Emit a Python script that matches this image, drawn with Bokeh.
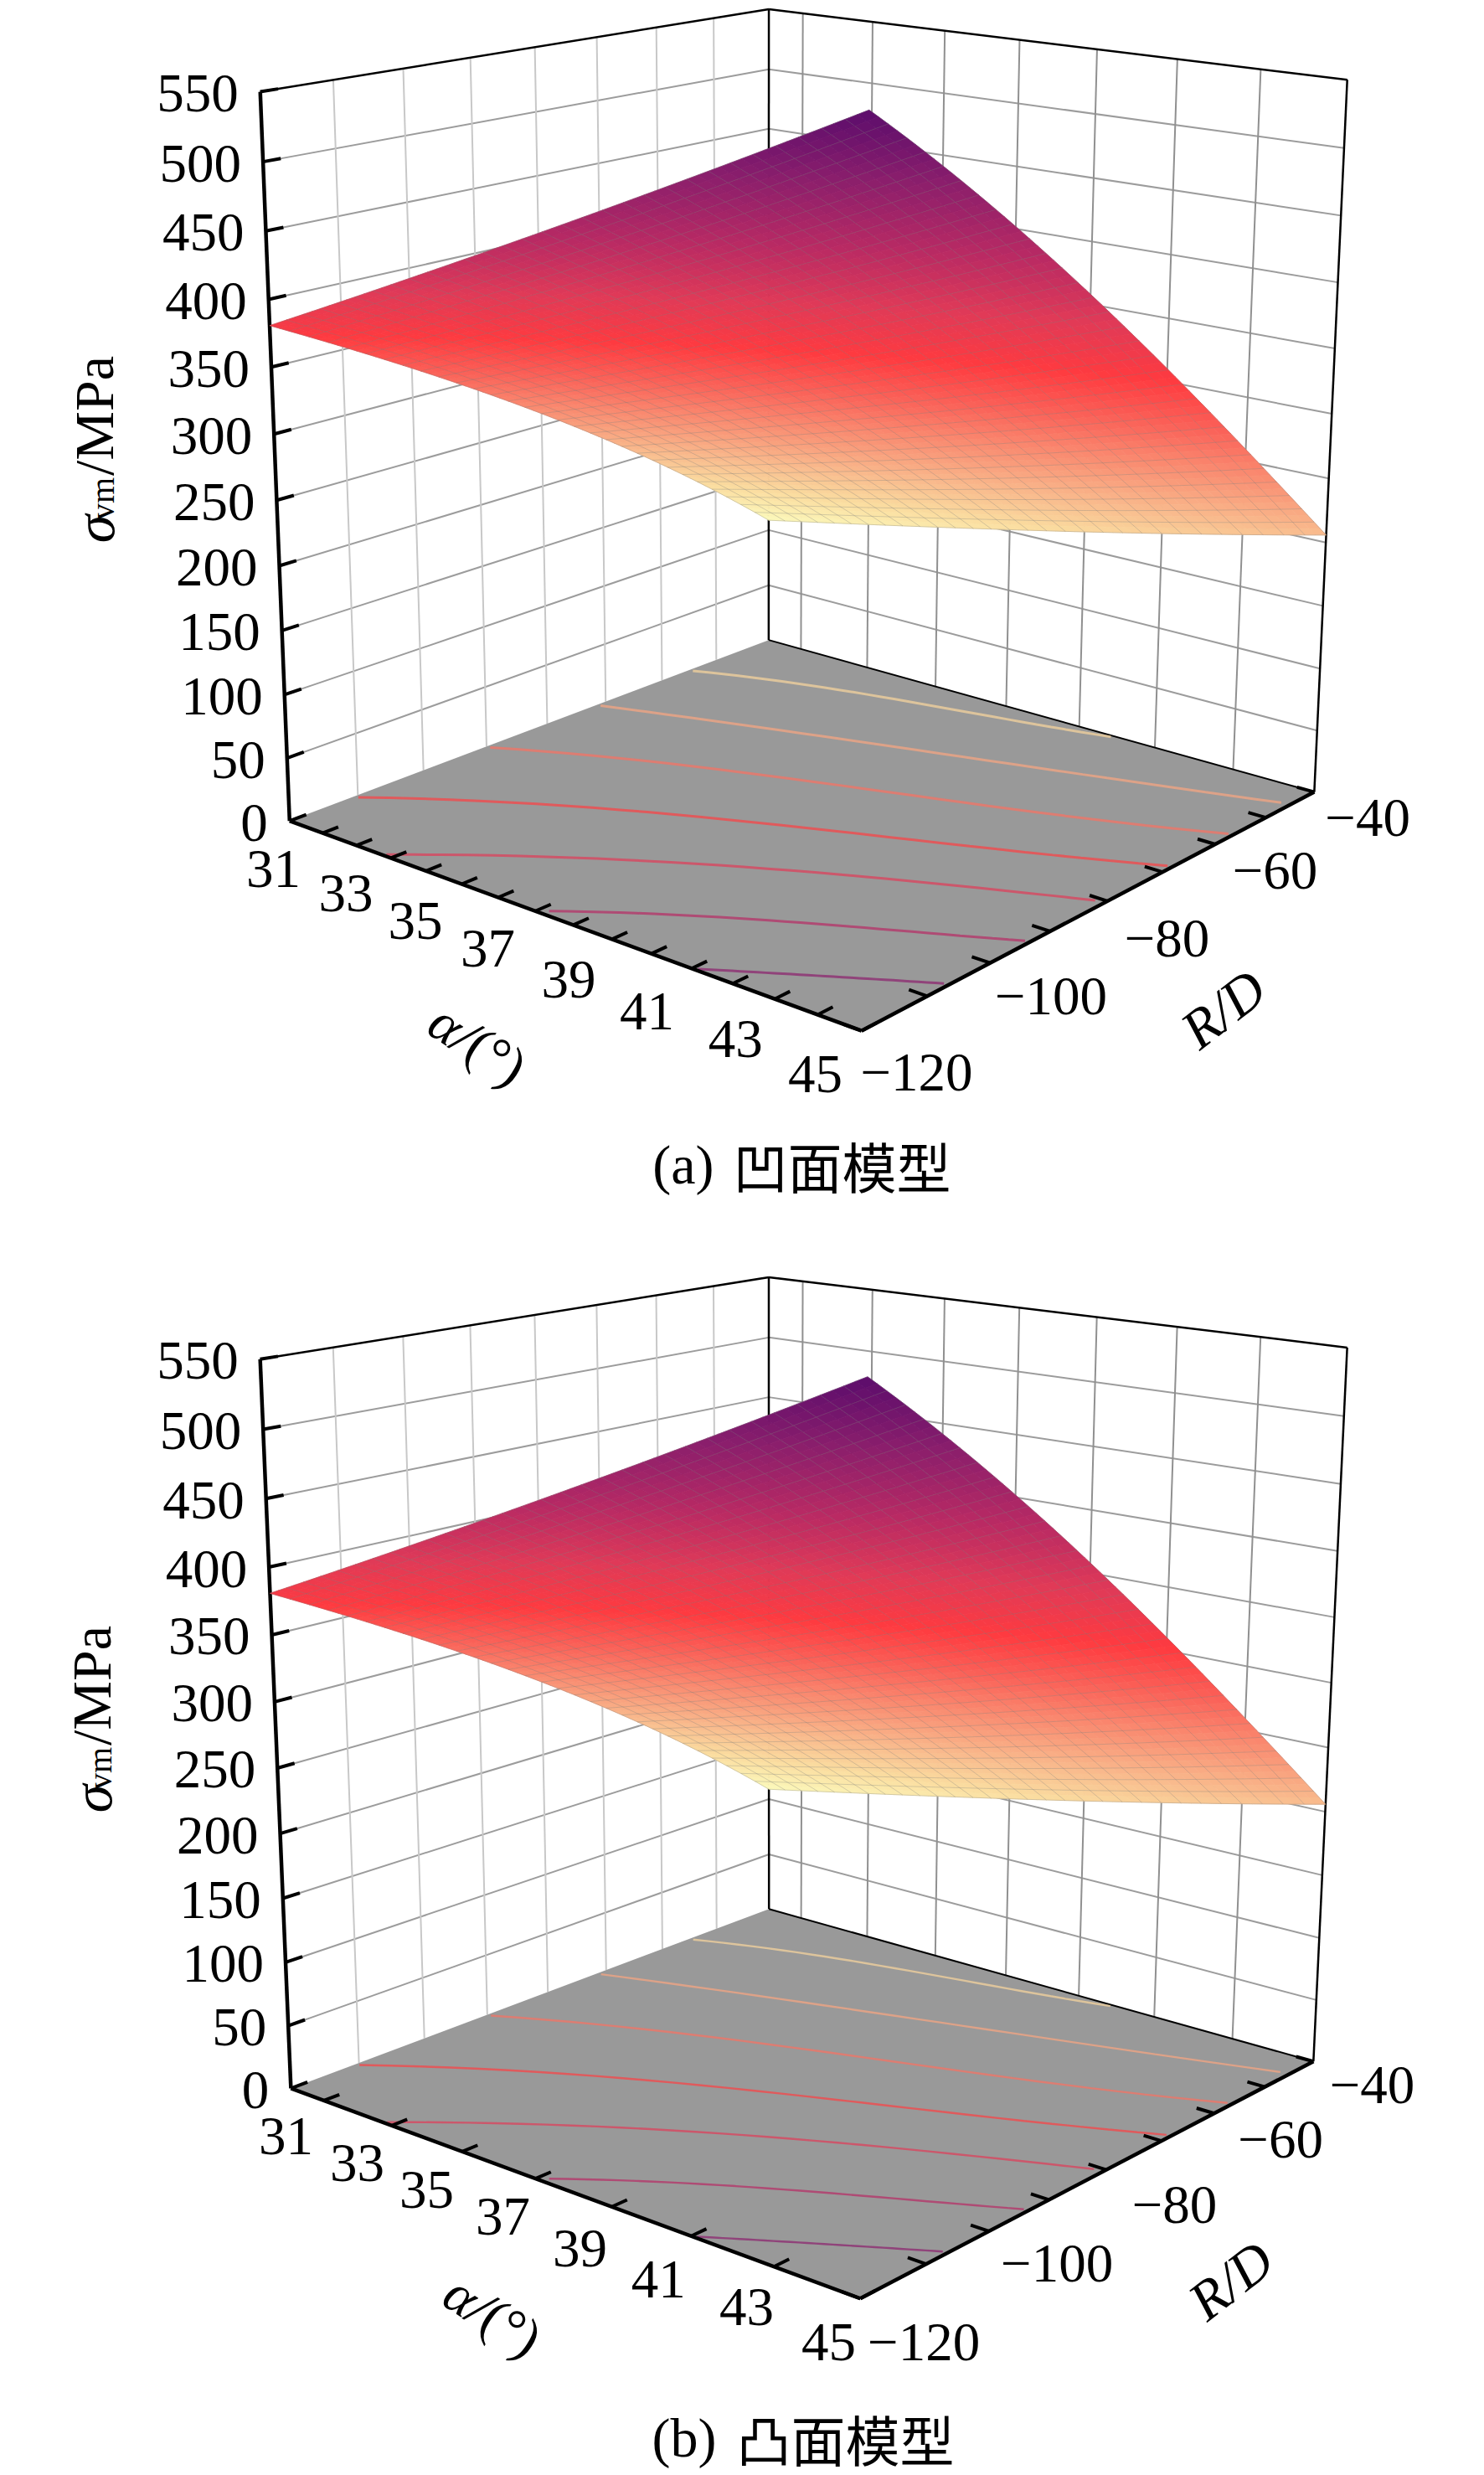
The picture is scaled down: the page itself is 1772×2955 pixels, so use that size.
import numpy as np
from bokeh.plotting import figure
from bokeh.embed import file_html
from bokeh.resources import INLINE
from bokeh.core.properties import value

# ---- data ----
ALPHA_GRID = [30, 31, 33, 35, 37, 39, 41, 43, 45]
RD_GRID = [-120, -110, -100, -90, -80, -70, -60, -50, -40]
SIGMA_RD_M120 = [381, 395, 423, 452, 480, 509, 538, 570, 599]
SIGMA_RD_M110 = [352, 365, 391, 418, 445, 472, 500, 529, 557]
SIGMA_RD_M100 = [322, 334, 359, 383, 408, 433, 459, 486, 512]
SIGMA_RD_M90 = [293, 304, 326, 348, 371, 393, 417, 442, 466]
SIGMA_RD_M80 = [260, 270, 290, 310, 331, 351, 372, 395, 417]
SIGMA_RD_M70 = [225, 234, 252, 270, 288, 306, 325, 346, 365]
SIGMA_RD_M60 = [189, 196, 212, 228, 244, 260, 277, 295, 313]
SIGMA_RD_M50 = [150, 157, 170, 184, 198, 212, 228, 244, 259]
SIGMA_RD_M40 = [109, 115, 127, 140, 152, 164, 178, 192, 206]

CONTOUR_LEVELS = [170, 235, 300, 360, 418, 480, 541]
CONTOUR_1 = [(30.1, -55.0), (32.7, -49.6), (35.5, -46.2), (38.1, -42.6), (39.9, -40.5)]
CONTOUR_2 = [(30.1, -71.5), (33.1, -65.6), (36.5, -59.9), (39.7, -54.2), (42.8, -48.7), (44.8, -45.2)]
CONTOUR_3 = [(30.1, -90.0), (32.8, -82.2), (35.8, -76.0), (38.9, -69.6), (41.9, -63.7), (44.9, -56.6)]
CONTOUR_4 = [(30.1, -110.6), (32.6, -100.3), (35.5, -92.6), (38.2, -84.8), (41.1, -78.0), (44.9, -68.3)]
CONTOUR_5 = [(32.8, -119.7), (35.3, -108.9), (38.4, -98.3), (41.0, -90.4), (44.8, -80.7)]
CONTOUR_6 = [(37.2, -119.1), (38.9, -112.3), (41.3, -104.3), (44.9, -93.5)]
CONTOUR_7 = [(41.1, -119.7), (42.8, -113.8), (44.9, -106.7)]

Z_TICKS = [0, 50, 100, 150, 200, 250, 300, 350, 400, 450, 500, 550]
ALPHA_TICKS = [31, 33, 35, 37, 39, 41, 43, 45]
ALPHA_MINOR = [32, 34, 36, 38, 40, 42, 44]
RD_TICKS = [-120, -100, -80, -60, -40]
RD_MINOR = [-110, -90, -70, -50]
AX_A, AX_B = 30.0, 45.0
RD_A, RD_B = -120.0, -40.0
Z_TOP = 550.0

# colour ramp of the surface (value, colour)
RAMP_V = [109, 160, 206, 270, 320, 365, 420, 480, 540, 599]
RAMP_C = ["#FCF9BB", "#FBDDA0", "#F9BC8E", "#FA8A70", "#FB5F57", "#FF3B40", "#E03A58", "#B82A64", "#8C1F6C", "#5C0D6C"]

# ---- layout: picture position of the box corners (alpha, R/D, sigma) for each panel ----
PANELS = [
    dict(anchors=[((AX_A, RD_A, 0), (346, 979.5)), ((AX_A, RD_A, Z_TOP), (310.6, 108.4)),
                  ((AX_A, RD_B, 0), (917, 764.5)), ((AX_A, RD_B, Z_TOP), (917, 10.2)),
                  ((AX_B, RD_B, 0), (1569.6, 943.5)), ((AX_B, RD_B, Z_TOP), (1608.5, 95.7)),
                  ((AX_B, RD_A, 0), (1027, 1231))],
         alpha_pos=[(326, 1037), (412.5, 1066), (495.5, 1099), (582, 1131.5), (678.6, 1168.6), (772, 1206.5), (877.7, 1240), (973, 1282)],
         rd_pos=[(1094, 1280), (1254.5, 1188.6), (1393, 1119.5), (1522, 1039), (1632.6, 976)],
         minor=True, rd_title=(1460, 1204), al_title=(558, 1238), cont_w=3.0,
         sig=(112, 631, 595, 496), cap=(852, 875, 1390), cap_txt="(a)", cap_cjk="凹面模型"),
    dict(anchors=[((AX_A, RD_A, 0), (348, 2493.2)), ((AX_A, RD_A, Z_TOP), (310.6, 1621.2)),
                  ((AX_A, RD_B, 0), (917, 2279.6)), ((AX_A, RD_B, Z_TOP), (916.8, 1524.2)),
                  ((AX_B, RD_B, 0), (1569, 2458.8)), ((AX_B, RD_B, Z_TOP), (1608.5, 1609.7)),
                  ((AX_B, RD_A, 0), (1025, 2744.6))],
         alpha_pos=[(341, 2550), (426, 2582), (509, 2614), (600, 2645.7), (692, 2684), (785.7, 2721), (891, 2753.6), (989, 2796)],
         rd_pos=[(1102.7, 2796), (1261.6, 2702), (1402, 2632), (1528.6, 2553.5), (1638, 2488.5)],
         minor=False, rd_title=(1469, 2722), al_title=(576, 2756), cont_w=2.4,
         sig=(109, 2147, 2111, 2012), cap=(855, 879, 2910), cap_txt="(b)", cap_cjk="凸面模型"),
]

SERIF = value("Liberation Serif")
SIGMA = np.array([SIGMA_RD_M120, SIGMA_RD_M110, SIGMA_RD_M100, SIGMA_RD_M90, SIGMA_RD_M80,
                  SIGMA_RD_M70, SIGMA_RD_M60, SIGMA_RD_M50, SIGMA_RD_M40], float)
CONTOURS = [CONTOUR_1, CONTOUR_2, CONTOUR_3, CONTOUR_4, CONTOUR_5, CONTOUR_6, CONTOUR_7]


def norm(a, r, z):
    return (np.asarray(a, float) - AX_A) / (AX_B - AX_A), (np.asarray(r, float) - RD_A) / (RD_B - RD_A), np.asarray(z, float) / Z_TOP


def camera(anchors):
    rows = []
    for (a, r, z), (x, y) in anchors:
        X, Y, Z = norm(a, r, z)
        rows.append([X, Y, Z, 1, 0, 0, 0, 0, -x * X, -x * Y, -x * Z, -x])
        rows.append([0, 0, 0, 0, X, Y, Z, 1, -y * X, -y * Y, -y * Z, -y])
    return np.linalg.svd(np.array(rows, float))[2][-1].reshape(3, 4)


def project(P, a, r, z):
    X, Y, Z = norm(a, r, z)
    h = P[:, :3] @ np.stack([X, Y, Z]).reshape(3, -1) + P[:, 3:]
    sh = np.shape(X)
    return (h[0] / h[2]).reshape(sh), (h[1] / h[2]).reshape(sh)


def ramp(v):
    rgb = np.array([[int(c[i:i + 2], 16) for i in (1, 3, 5)] for c in RAMP_C], float)
    ch = [np.interp(v, RAMP_V, rgb[:, k]) for k in range(3)]
    return ["#%02x%02x%02x" % (int(r), int(g), int(b)) for r, g, b in zip(*[np.atleast_1d(c) for c in ch])]


# shading mesh: the table above, refined only so the fill colour and outline vary smoothly
M = 60
a_m = np.linspace(AX_A, AX_B, M + 1)
r_m = np.linspace(RD_A, RD_B, M + 1)
by_a = np.array([np.polyval(np.polyfit(ALPHA_GRID, row, 3), a_m) for row in SIGMA])
Z_M = np.array([np.polyval(np.polyfit(RD_GRID, by_a[:, j], 3), r_m) for j in range(M + 1)]).T   # [rd, alpha]
A_M, R_M = np.meshgrid(a_m, r_m)

p = figure(width=1772, height=2955, x_range=(0, 1772), y_range=(2955, 0), output_backend="svg",
           toolbar_location=None, x_axis_type=None, y_axis_type=None, min_border=0,
           background_fill_color="white", border_fill_color="white", outline_line_color=None)
p.grid.visible = False


def seg(P, a0, r0, z0, a1, r1, z1):
    x, y = project(P, [a0, a1], [r0, r1], [z0, z1])
    return list(x), list(y)


for pan in PANELS:
    P = camera(pan["anchors"])

    # wall grid
    xs, ys = [], []
    for z in Z_TICKS[1:-1]:
        for s in (seg(P, AX_A, RD_A, z, AX_A, RD_B, z), seg(P, AX_A, RD_B, z, AX_B, RD_B, z)):
            xs.append(s[0]); ys.append(s[1])
    p.multi_line(xs, ys, line_color="#9c9c9c", line_width=2)
    xs, ys = [], []
    for r in sorted(RD_TICKS + RD_MINOR)[1:-1]:
        s = seg(P, AX_A, r, 0, AX_A, r, Z_TOP); xs.append(s[0]); ys.append(s[1])
    p.multi_line(xs, ys, line_color="#c8c8c8", line_width=2)
    xs, ys = [], []
    for a in ALPHA_TICKS[:-1]:
        s = seg(P, a, RD_B, 0, a, RD_B, Z_TOP); xs.append(s[0]); ys.append(s[1])
    p.multi_line(xs, ys, line_color="#909090", line_width=2)

    # box outline (thin)
    xs, ys = [], []
    for q in [(AX_A, RD_A, Z_TOP, AX_A, RD_B, Z_TOP), (AX_A, RD_B, Z_TOP, AX_B, RD_B, Z_TOP),
              (AX_A, RD_B, 0, AX_A, RD_B, Z_TOP), (AX_B, RD_B, 0, AX_B, RD_B, Z_TOP)]:
        s = seg(P, *q); xs.append(s[0]); ys.append(s[1])
    p.multi_line(xs, ys, line_color="black", line_width=2.5)

    # floor
    fx, fy = project(P, [AX_A, AX_A, AX_B, AX_B], [RD_A, RD_B, RD_B, RD_A], [0, 0, 0, 0])
    p.patch(list(fx), list(fy), fill_color="#999999", line_color=None)
    s = seg(P, AX_A, RD_B, 0, AX_B, RD_B, 0)
    p.line(s[0], s[1], line_color="black", line_width=2)

    # contours on the floor (curve drawn smoothly through the read points)
    xs, ys = [], []
    for c in CONTOURS:
        cc = np.array(c)
        aa = np.linspace(cc[0, 0], cc[-1, 0], 30)
        rr = np.polyval(np.polyfit(cc[:, 0], cc[:, 1], min(3, len(cc) - 1)), aa)
        x, y = project(P, aa, rr, np.zeros(len(aa)))
        xs.append(list(x)); ys.append(list(y))
    p.multi_line(xs, ys, line_color=ramp(np.array(CONTOUR_LEVELS, float)), line_width=pan["cont_w"], line_alpha=0.7)

    # heavy axes
    xs, ys = [], []
    for q in [(AX_A, RD_A, 0, AX_A, RD_A, Z_TOP), (AX_A, RD_A, 0, AX_B, RD_A, 0), (AX_B, RD_A, 0, AX_B, RD_B, 0)]:
        s = seg(P, *q); xs.append(s[0]); ys.append(s[1])
    p.multi_line(xs, ys, line_color="black", line_width=4.5, line_join="miter")

    # ticks
    xs, ys = [], []
    dv = 0.03 * (RD_B - RD_A)
    for z in Z_TICKS:
        s = seg(P, AX_A, RD_A, z, AX_A, RD_A + dv, z); xs.append(s[0]); ys.append(s[1])
    da = 0.028 * (AX_B - AX_A)
    al_t = ALPHA_TICKS + (ALPHA_MINOR if pan["minor"] else [])
    for a in al_t:
        s = seg(P, a, RD_A, 0, a, RD_A + 0.028 * (RD_B - RD_A), 0); xs.append(s[0]); ys.append(s[1])
    for r in RD_TICKS + RD_MINOR:
        s = seg(P, AX_B, r, 0, AX_B - da, r, 0); xs.append(s[0]); ys.append(s[1])
    p.multi_line(xs, ys, line_color="black", line_width=4)

    # surface
    X, Y = project(P, A_M, R_M, Z_M)
    qx, qy, vals = [], [], []
    for i in range(M):
        for j in range(M):
            qx.append([X[i, j], X[i, j + 1], X[i + 1, j + 1], X[i + 1, j]])
            qy.append([Y[i, j], Y[i, j + 1], Y[i + 1, j + 1], Y[i + 1, j]])
            vals.append((Z_M[i, j] + Z_M[i + 1, j + 1] + Z_M[i, j + 1] + Z_M[i + 1, j]) / 4)
    cols = ramp(np.array(vals))
    p.patches(qx, qy, fill_color=cols, line_color=cols, line_width=0.8)
    xs, ys = [], []
    for i in range(0, M + 1, 2):
        xs.append(list(X[i, :])); ys.append(list(Y[i, :]))
        xs.append(list(X[:, i])); ys.append(list(Y[:, i]))
    p.multi_line(xs, ys, line_color="#777777", line_alpha=0.3, line_width=1)

    # tick labels
    lx, ly = project(P, [AX_A] * len(Z_TICKS), [RD_A] * len(Z_TICKS), Z_TICKS)
    p.text(list(lx - 26), list(ly + 2), [str(z) for z in Z_TICKS], text_font=SERIF, text_font_size="65px",
           text_align="right", text_baseline="middle", text_color="black")
    pos = np.array(pan["alpha_pos"])
    p.text(list(pos[:, 0]), list(pos[:, 1]), [str(a) for a in ALPHA_TICKS], text_font=SERIF,
           text_font_size="65px", text_align="center", text_baseline="middle", text_color="black")
    pos = np.array(pan["rd_pos"])
    p.text(list(pos[:, 0]), list(pos[:, 1]), ["\u2212" + str(-r) for r in RD_TICKS], text_font=SERIF,
           text_font_size="65px", text_align="center", text_baseline="middle", text_color="black")

    # axis titles
    tx, ty = pan["rd_title"]
    p.text([tx], [ty], ["R/D"], angle=np.deg2rad(38), text_font=SERIF, text_font_style="italic",
           text_font_size="66px", text_align="center", text_baseline="middle")
    tx, ty = pan["al_title"]
    t = np.deg2rad(-33)
    cx, cy = tx + 6 * np.cos(t), ty - 6 * np.sin(t)
    p.text([cx], [cy], ["\u03b1/"], angle=t, text_font=SERIF, text_font_style="italic",
           text_font_size="66px", text_align="right", text_baseline="middle")
    p.text([cx], [cy], ["(\u00b0)"], angle=t, text_font=SERIF,
           text_font_size="66px", text_align="left", text_baseline="middle")
    bx, y_sig, y_vm, y_mpa = pan["sig"]
    up = np.deg2rad(90)
    p.text([bx], [y_sig], ["\u03c3"], angle=up, text_font=SERIF, text_font_style="italic", text_font_size="68px",
           text_align="center", text_baseline="alphabetic")
    p.text([bx + 10], [y_vm], ["vm"], angle=up, text_font=SERIF, text_font_size="40px",
           text_align="center", text_baseline="alphabetic")
    p.text([bx], [y_mpa], ["/MPa"], angle=up, text_font=SERIF, text_font_size="66px",
           text_align="center", text_baseline="alphabetic")

    # caption
    xr, xl, yc = pan["cap"]
    p.text([xr], [yc], [pan["cap_txt"]], text_font=SERIF, text_font_size="66px", text_align="right",
           text_baseline="middle")
    p.text([xl], [yc], [pan["cap_cjk"]], text_font=value("Noto Sans CJK SC"), text_font_size="65px",
           text_align="left", text_baseline="middle")

open("out.html", "w").write(file_html(p, INLINE))
